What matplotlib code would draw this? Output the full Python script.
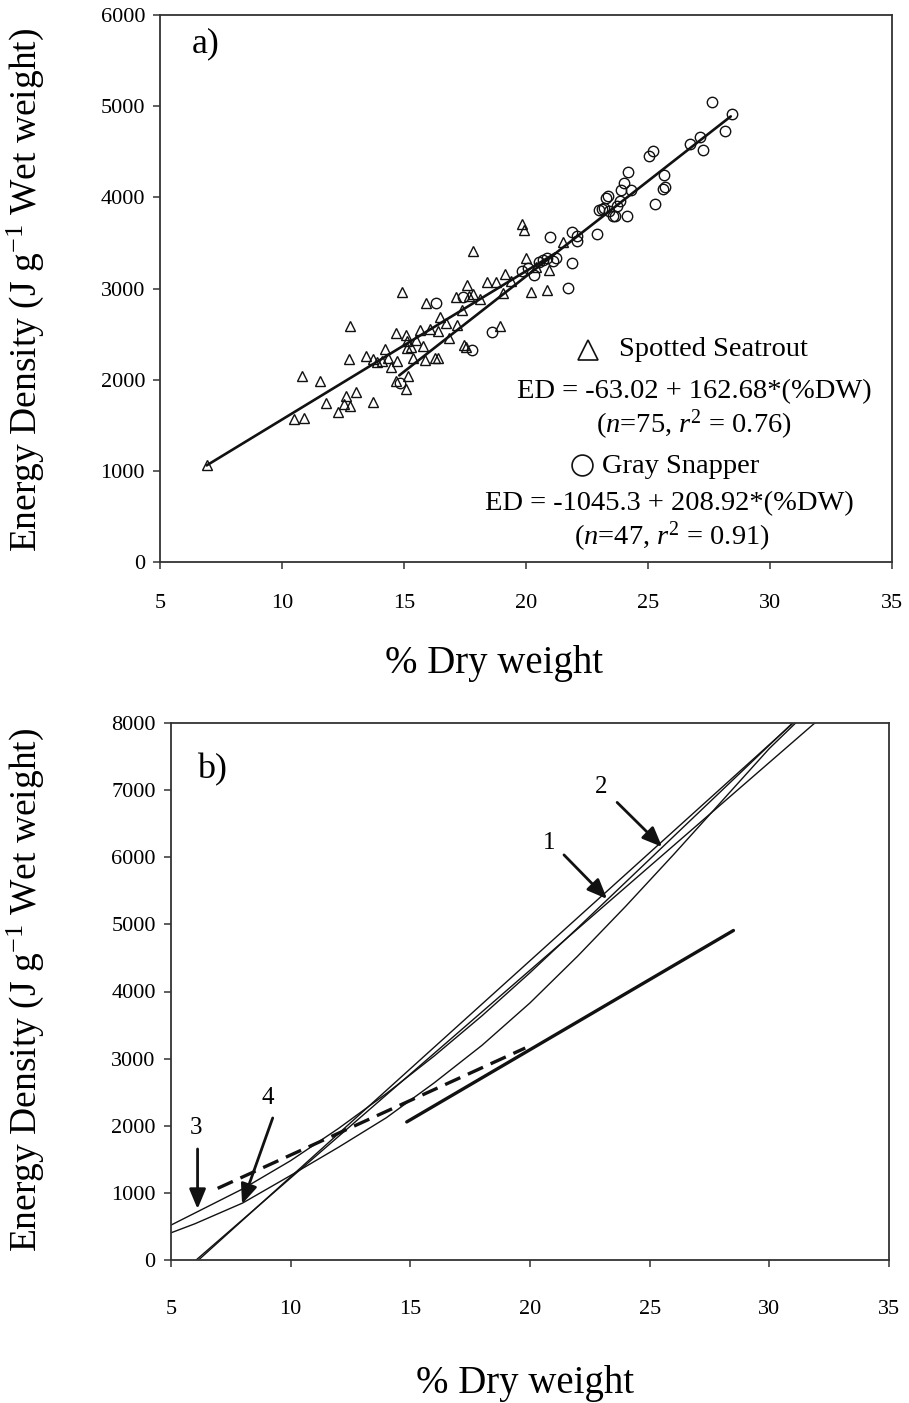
import matplotlib
matplotlib.use("Agg")
import matplotlib.pyplot as plt
import numpy as np

plt.rcParams['font.family'] = ['Liberation Serif', 'DejaVu Serif']
plt.rcParams['mathtext.fontset'] = 'custom'
plt.rcParams['mathtext.rm'] = 'Liberation Serif'
plt.rcParams['mathtext.it'] = 'Liberation Serif:italic'

# ---- panel a) data ----
trout_x = [6.9, 10.5, 10.9, 10.8, 11.55, 11.8, 12.28, 12.6, 12.53, 12.8, 12.75, 12.78,
           13.02, 13.43, 13.72, 13.72, 14.08, 14.22, 14.45, 14.7, 14.68, 14.65, 14.9,
           15.06, 15.18, 15.07, 15.12, 15.1, 15.3, 15.36, 15.64, 15.76, 15.84, 15.88,
           16.26, 16.38, 16.4, 16.48, 16.86, 17.12, 17.15, 17.38, 17.46, 17.52, 17.58,
           17.65, 17.82, 17.84, 18.4, 18.78, 18.92, 19.05, 19.12, 19.85, 19.92, 20.0,
           20.22, 20.86, 20.96, 21.53, 13.9, 14.35, 15.5, 16.05, 16.7, 18.1, 19.4, 20.4]
trout_y = [1065, 1570, 1585, 2040, 1990, 1745, 1645, 1825, 1730, 1710, 2225, 2585,
           1860, 2260, 1750, 2225, 2205, 2335, 2135, 2210, 1990, 2510, 2965,
           1895, 2045, 2490, 2425, 2350, 2360, 2235, 2545, 2365, 2215, 2840,
           2240, 2240, 2530, 2690, 2452, 2912, 2602, 2760, 2385, 2360, 3037,
           2915, 3415, 2940, 3076, 3076, 2588, 2955, 3162, 3705, 3645, 3333,
           2966, 2980, 3198, 3513, 2190, 2240, 2440, 2560, 2620, 2880, 3080, 3240]

snap_x = [14.85, 16.3, 17.43, 17.77, 18.62, 19.85, 20.08, 20.33, 20.55, 20.85, 21.0,
          21.12, 21.23, 21.72, 21.9, 21.9, 22.08, 22.1, 22.9, 22.98, 23.1, 23.2, 23.3,
          23.36, 23.42, 23.55, 23.66, 23.75, 23.86, 23.88, 24.02, 24.13, 24.2, 24.3,
          25.06, 25.22, 25.29, 25.6, 25.72, 25.66, 26.74, 27.13, 27.24, 27.62, 28.16,
          28.44, 20.7]
snap_y = [1960, 2840, 2910, 2326, 2520, 3190, 3230, 3149, 3290, 3340, 3562,
          3300, 3330, 3010, 3277, 3624, 3577, 3520, 3598, 3860, 3875, 3880, 3995,
          4020, 3850, 3790, 3800, 3905, 3955, 4077, 4161, 3797, 4277, 4085,
          4455, 4510, 3926, 4095, 4117, 4249, 4587, 4661, 4520, 5045, 4726,
          4915, 3310]

# regression fits (intercept, slope, x-range)
trout_fit = (-63.02, 162.68, 6.9, 21.2)
snap_fit = (-1045.3, 208.92, 14.8, 28.4)

# ---- panel b) curves from other studies ----
c1_x = [6.15, 31.0]
c1_y = [0, 8000]
c2_x = [6.05, 31.9]
c2_y = [0, 8000]
c3_x = [5, 6, 8, 10, 12, 14, 16, 18, 20, 22, 24, 26, 28, 30, 31.0]
c3_y = [520, 700, 1060, 1480, 1960, 2480, 3040, 3640, 4280, 4950, 5630, 6310, 6990, 7670, 8010]
c4_x = [5, 6, 8, 10, 12, 14, 16, 18, 20, 22, 24, 26, 28, 30, 31.1]
c4_y = [405, 540, 850, 1260, 1680, 2120, 2640, 3200, 3830, 4530, 5270, 6040, 6830, 7620, 8000]
trout_fit_b = (-63.02, 162.68, 6.95, 19.8)
snap_fit_b = (-1045.3, 208.92, 14.85, 28.5)

# arrow labels: (text, label pos, arrow start, arrow tip)
arrows_b = [("1", (20.8, 6213), (21.42, 6035), (23.22, 5379)),
            ("2", (22.97, 7048), (23.64, 6817), (25.52, 6154)),
            ("3", (6.04, 1967), (6.11, 1654), (6.11, 760)),
            ("4", (9.05, 2414), (9.25, 2116), (7.97, 834))]

W, H = 909, 1403
fig = plt.figure(figsize=(W / 100, H / 100), dpi=100)


def axes_px(x0, y0, x1, y1):
    return fig.add_axes([x0 / W, 1 - y1 / H, (x1 - x0) / W, (y1 - y0) / H])


def style(ax, pad_x):
    for s in ax.spines.values():
        s.set_color('#333333')
        s.set_linewidth(1.3)
    ax.tick_params(direction='out', length=5, width=1.1, color='#333333',
                   labelsize=16, top=False, right=False)
    ax.tick_params(axis='x', pad=pad_x)
    ax.tick_params(axis='y', pad=6)


ylab = r'Energy Density (J g$^{\mathregular{-1}}$ Wet weight)'

# ---------- panel a ----------
ax1 = axes_px(160.3, 15, 891.7, 562)
style(ax1, 18)
ax1.set_xlim(5, 35)
ax1.set_ylim(0, 6000)
ax1.set_xticks(np.arange(5, 36, 5))
ax1.set_yticks(np.arange(0, 6001, 1000))

mk = dict(linestyle='none', markersize=7.5, markerfacecolor='none',
          markeredgecolor='#111111', markeredgewidth=1.0)
ax1.plot(trout_x, trout_y, marker='^', **mk)
ax1.plot(snap_x, snap_y, marker='o', **mk)
for b0, b1, xa, xb in (trout_fit, snap_fit):
    xs = np.array([xa, xb])
    ax1.plot(xs, b0 + b1 * xs, color='#111111', lw=1.9, solid_capstyle='round')

ax1.text(6.3, 5680, 'a)', fontsize=26, va='center', ha='left')

# legend-like annotation
big = dict(linestyle='none', markersize=15, markerfacecolor='none',
           markeredgecolor='#111111', markeredgewidth=1.2, clip_on=False)
ax1.plot([22.55], [2330], marker='^', **big)
ax1.plot([22.3], [1060], marker='o', **big)
tkw = dict(va='center', fontsize=20.5)
ax1.text(23.8, 2326, 'Spotted Seatrout', ha='left', **tkw)
ax1.text(26.9, 1870, 'ED = -63.02 + 162.68*(%DW)', ha='center', **tkw)
ax1.text(26.9, 1500, r'($\mathit{n}$=75, $\mathit{r}^{\mathregular{2}}$ = 0.76)', ha='center', **tkw)
ax1.text(23.1, 1050, 'Gray Snapper', ha='left', **tkw)
ax1.text(25.9, 640, 'ED = -1045.3 + 208.92*(%DW)', ha='center', **tkw)
ax1.text(26.0, 280, r'($\mathit{n}$=47, $\mathit{r}^{\mathregular{2}}$ = 0.91)', ha='center', **tkw)

fig.text(25 / W, 1 - 290 / H, ylab, rotation=90, ha='center', va='center', fontsize=27)
fig.text(494 / W, 1 - 663 / H, '% Dry weight', ha='center', va='center', fontsize=28)

# ---------- panel b ----------
ax2 = axes_px(171, 723, 889, 1260)
style(ax2, 24)
ax2.set_xlim(5, 35)
ax2.set_ylim(0, 8000)
ax2.set_xticks(np.arange(5, 36, 5))
ax2.set_yticks(np.arange(0, 8001, 1000))

for cx, cy in ((c1_x, c1_y), (c2_x, c2_y), (c3_x, c3_y), (c4_x, c4_y)):
    ax2.plot(cx, cy, color='#111111', lw=1.0)

b0, b1, xa, xb = snap_fit_b
xs = np.array([xa, xb])
ax2.plot(xs, b0 + b1 * xs, color='#111111', lw=2.4, solid_capstyle='round')
b0, b1, xa, xb = trout_fit_b
xs = np.array([xa, xb])
ax2.plot(xs, b0 + b1 * xs, color='#111111', lw=2.4, dashes=(5, 2.5))

for lab, lpos, start, tip in arrows_b:
    ax2.text(lpos[0], lpos[1], lab, fontsize=18, ha='center', va='center')
    ax2.annotate('', xy=tip, xytext=start,
                 arrowprops=dict(arrowstyle='-|>,head_length=0.6,head_width=0.25',
                                 lw=2.0, color='#111111', mutation_scale=20,
                                 shrinkA=0, shrinkB=0))

ax2.text(6.1, 7300, 'b)', fontsize=26, va='center', ha='left')

fig.text(25 / W, 1 - 990 / H, ylab, rotation=90, ha='center', va='center', fontsize=27)
fig.text(525 / W, 1 - 1383 / H, '% Dry weight', ha='center', va='center', fontsize=28)

fig.savefig('out.png', dpi=100, facecolor='white')
